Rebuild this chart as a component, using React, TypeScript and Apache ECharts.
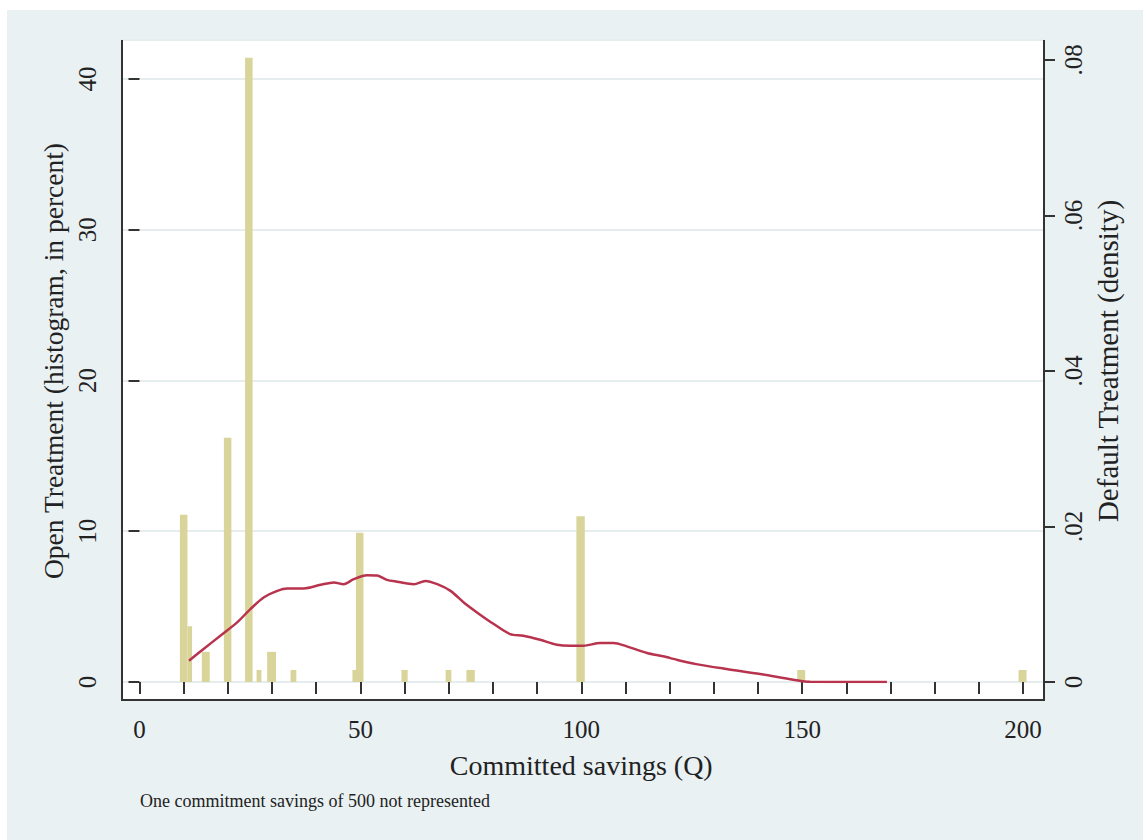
import React, { useEffect, useRef } from 'react';
import * as echarts from 'echarts';

// Histogram (Open Treatment, percent): bin edges and heights
const binStart = [9.15, 10.85, 14.1, 19.1, 23.9, 26.5, 28.9, 34.2, 48.2, 49.0, 59.3, 69.3, 74.0, 98.9, 148.9, 199.0];
const binEnd = [10.85, 11.9, 15.9, 20.8, 25.6, 27.6, 30.9, 35.5, 49.0, 50.7, 60.7, 70.6, 75.9, 100.8, 150.7, 200.8];
const binPercent = [11.1, 3.7, 2.0, 16.2, 41.4, 0.8, 2.0, 0.8, 0.8, 9.9, 0.8, 0.8, 0.8, 11.0, 0.8, 0.8];

// Kernel density (Default Treatment)
const densityX = [11.2, 14.5, 18.3, 22.1, 25.1, 28.1, 31.2, 33.4, 37.2, 41.0, 44.0, 46.2, 48.5, 51.5, 53.8, 56.0, 58.3, 62.1, 64.7, 67.4, 70.4, 73.4, 76.4, 80.2, 83.9, 86.9, 90.7, 94.5, 97.5, 100.5, 104.3, 107.3, 110.3, 114.9, 118.5, 122.0, 126.0, 132.9, 140.5, 148.0, 151.8, 160.0, 169.2];
const densityY = [0.00274, 0.00424, 0.00595, 0.00767, 0.00937, 0.01087, 0.01172, 0.01203, 0.01203, 0.0125, 0.0128, 0.01258, 0.01323, 0.01374, 0.0137, 0.01314, 0.0129, 0.01258, 0.013, 0.01258, 0.01172, 0.01023, 0.00895, 0.00745, 0.00616, 0.00595, 0.00543, 0.00479, 0.00466, 0.00466, 0.00501, 0.00501, 0.00458, 0.00372, 0.0033, 0.0028, 0.0023, 0.00167, 0.00103, 0.0003, 0.00002, 0.00001, 0.00001];

const xLabelValues = [0, 50, 100, 150, 200];
const leftTicks = [0, 10, 20, 30, 40];
const rightTicks = [0, 0.02, 0.04, 0.06, 0.08];

const FONT = '"Liberation Serif", "Times New Roman", serif';
const TEXT = '#222222';
const AXIS = '#333333';
const BG = '#e9f1f3';
const BAR = '#d8d49a';
const LINE = '#b8344e';
const GRIDLINE = '#e6edef';

export default function App() {
  const ref = useRef<HTMLDivElement>(null);
  useEffect(() => {
    if (!ref.current) return;
    const chart = echarts.init(ref.current, undefined, { renderer: 'svg' });
    const option: any = {
      animation: false,
      backgroundColor: '#ffffff',
      textStyle: { fontFamily: FONT },
      grid: [
        { left: 139.5, right: 120, top: 40, bottom: 158 },
        { left: 122, right: 99, top: 40, bottom: 158 },
      ],
      xAxis: [
        {
          type: 'value', gridIndex: 0, min: 0, max: 200, interval: 10, offset: 18,
          axisLine: { show: false },
          axisTick: { show: true, length: 12, lineStyle: { color: AXIS, width: 2 } },
          axisLabel: {
            margin: 17, fontSize: 25, color: TEXT, fontFamily: FONT,
            formatter: (v: number) => (xLabelValues.includes(v) ? String(v) : ''),
          },
          splitLine: { show: false },
          name: 'Committed savings (Q)', nameLocation: 'middle', nameGap: 51,
          nameTextStyle: { fontSize: 28, color: TEXT, fontFamily: FONT },
        },
        { type: 'value', gridIndex: 1, min: 0, max: 1, show: false },
      ],
      yAxis: [
        {
          type: 'value', gridIndex: 0, position: 'left', min: 0, max: 42.58, interval: 10, offset: 17.5,
          axisLine: { show: false },
          axisTick: { show: true, length: 11, lineStyle: { color: AXIS, width: 2 } },
          axisLabel: {
            rotate: 90, margin: 22, fontSize: 25, color: TEXT, fontFamily: FONT, showMaxLabel: false,
            formatter: (v: number) => (leftTicks.includes(v) ? String(v) : ''),
          },
          splitLine: { show: false },
          name: 'Open Treatment (histogram, in percent)', nameLocation: 'middle', nameGap: 51, nameRotate: 90,
          nameTextStyle: { fontSize: 27.5, color: TEXT, fontFamily: FONT },
        },
        {
          type: 'value', gridIndex: 0, position: 'right', min: 0, max: 0.08257, interval: 0.02, offset: 21,
          axisLine: { show: false },
          axisTick: { show: true, length: 11, lineStyle: { color: AXIS, width: 2 } },
          axisLabel: {
            rotate: 90, margin: 17, fontSize: 25, color: TEXT, fontFamily: FONT, showMaxLabel: false,
            formatter: (v: number) => {
              const hit = rightTicks.find((t) => Math.abs(t - v) < 1e-9);
              if (hit === undefined) return '';
              return hit === 0 ? '0' : hit.toFixed(2).replace(/^0/, '');
            },
          },
          splitLine: { show: false },
          name: 'Default Treatment (density)', nameLocation: 'middle', nameGap: 47, nameRotate: 90,
          nameTextStyle: { fontSize: 29, color: TEXT, fontFamily: FONT },
        },
        {
          type: 'value', gridIndex: 1, min: 0, max: 42.58, interval: 10,
          axisLine: { show: false }, axisTick: { show: false }, axisLabel: { show: false },
          splitLine: { show: true, lineStyle: { color: GRIDLINE, width: 2 } },
        },
      ],
      series: [
        {
          type: 'custom',
          name: 'Open Treatment',
          xAxisIndex: 0, yAxisIndex: 0,
          clip: false,
          encode: { x: [0, 1], y: 2 },
          data: binStart.map((s, i) => [s, binEnd[i], binPercent[i]]),
          renderItem: (params: any, api: any) => {
            const topLeft = api.coord([api.value(0), api.value(2)]);
            const bottomRight = api.coord([api.value(1), 0]);
            return {
              type: 'rect',
              shape: {
                x: topLeft[0], y: topLeft[1],
                width: bottomRight[0] - topLeft[0], height: bottomRight[1] - topLeft[1],
              },
              style: { fill: BAR },
            };
          },
        },
        {
          type: 'line',
          name: 'Default Treatment',
          xAxisIndex: 0, yAxisIndex: 1,
          data: densityX.map((x, i) => [x, densityY[i]]),
          showSymbol: false,
          smooth: 0.3,
          lineStyle: { color: LINE, width: 2.5 },
          z: 5,
        },
      ],
      graphic: [
        { type: 'rect', z: -20, silent: true, shape: { x: 7, y: 10, width: 1136, height: 830 }, style: { fill: BG } },
        { type: 'rect', z: -10, silent: true, shape: { x: 122, y: 40, width: 922, height: 660 }, style: { fill: '#ffffff' } },
        { type: 'line', z: 10, silent: true, shape: { x1: 122, y1: 40, x2: 122, y2: 701 }, style: { stroke: AXIS, lineWidth: 2 } },
        { type: 'line', z: 10, silent: true, shape: { x1: 1044, y1: 40, x2: 1044, y2: 701 }, style: { stroke: AXIS, lineWidth: 2 } },
        { type: 'line', z: 10, silent: true, shape: { x1: 121, y1: 700, x2: 1045, y2: 700 }, style: { stroke: AXIS, lineWidth: 2 } },
        {
          type: 'text', z: 10, silent: true, x: 140, y: 801,
          style: { text: 'One commitment savings of 500 not represented', fontSize: 18, fontFamily: FONT, fill: TEXT, verticalAlign: 'middle' },
        },
      ],
    };
    chart.setOption(option);
    return () => chart.dispose();
  }, []);
  return <div ref={ref} style={{ position: 'absolute', left: 0, top: 0, width: 1143, height: 840 }} />;
}
